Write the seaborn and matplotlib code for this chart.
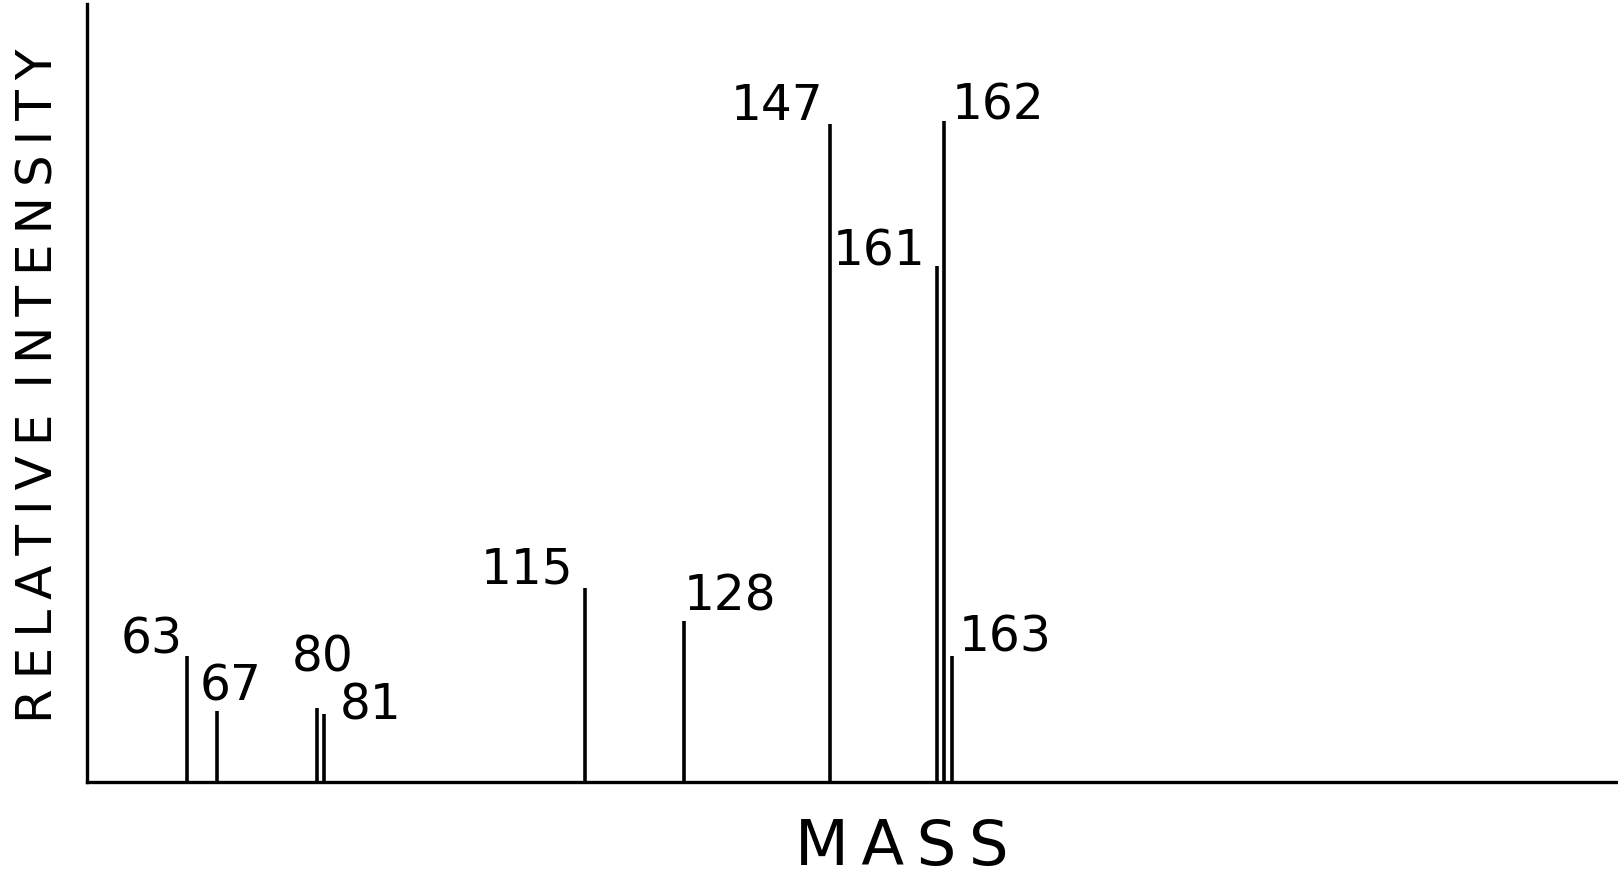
import numpy as np
import pandas as pd
import matplotlib
matplotlib.use("Agg")
import matplotlib.pyplot as plt
import seaborn as sns

# Peaks (mass, relative intensity, 162 = 100)
masses = [63, 67, 80, 81, 115, 128, 147, 161, 162, 163]
intensities = [19.0, 10.7, 11.2, 10.3, 29.3, 24.4, 99.5, 78.0, 100.0, 19.0]
labels = ["63", "67", "80", "81", "115", "128", "147", "161", "162", "163"]

df = pd.DataFrame({"mass": masses, "intensity": intensities, "label": labels})

# label placement (ha, dx px, dy px) relative to the top of each stick
label_pos = {
    "63": ("right", -4, 3),
    "67": ("left", -18, 11),
    "80": ("left", -25, 36),
    "81": ("left", 15, -6),
    "115": ("right", -11, 5),
    "128": ("left", 0, 10),
    "147": ("right", -6, 4),
    "161": ("right", -11, 1),
    "162": ("left", 7, 1),
    "163": ("left", 7, 5),
}

W, H = 1618, 880

sns.set_style("white")
plt.rcParams["font.family"] = ["DejaVu Sans"]

fig = plt.figure(figsize=(W / 100, H / 100), dpi=100)
ax = fig.add_axes([87 / W, 98 / H, 1 - 87 / W, 778 / H])

ax.vlines(df["mass"], 0, df["intensity"], color="black", linewidth=2.6)

px = 72 / 100  # pixels -> points
for m, h, lab in zip(df["mass"], df["intensity"], df["label"]):
    ha, dx, dy = label_pos[lab]
    ax.annotate(lab, (m, h), xytext=(dx * px, dy * px), textcoords="offset points",
                ha=ha, va="baseline", fontsize=35, color="black")

ax.set_xlim(50, 250)
ax.set_ylim(0, 117.7)
ax.set_xticks([])
ax.set_yticks([])
sns.despine(ax=ax, top=True, right=True)
for side in ["left", "bottom"]:
    ax.spines[side].set_color("black")
    ax.spines[side].set_linewidth(2.4)

# letter-spaced axis titles (thin spaces between letters)
thin = "\u2009"
xtitle = thin.join("MASS")
ytitle = (" " + thin).join(thin.join(w) for w in ["RELATIVE", "INTENSITY"])

fig.text(902 / W, 1 - 865 / H, xtitle, ha="center", va="baseline",
         fontsize=45, color="black")
fig.text(39 / W, 1 - 386 / H, ytitle, ha="center", va="center",
         rotation=90, fontsize=36, color="black")

fig.savefig("out.png", dpi=100, facecolor="white")
